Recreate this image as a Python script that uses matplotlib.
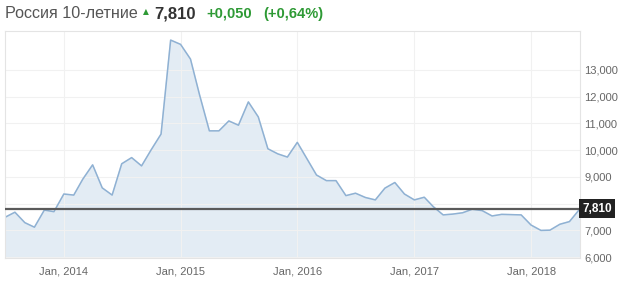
import pandas as pd
import matplotlib
matplotlib.use("Agg")
import matplotlib.pyplot as plt

plt.rcParams['font.family'] = ['Liberation Sans', 'DejaVu Sans']

# доходность 10-летних ОФЗ, помесячно с июля 2013 по июнь 2018
months = pd.date_range("2013-07-01", periods=60, freq="MS")
yields = [
    7.49, 7.68, 7.29, 7.12, 7.76, 7.70,
    8.36, 8.32, 8.91, 9.45, 8.59, 8.32, 9.49, 9.72, 9.41, 10.01, 10.60, 14.11,
    13.95, 13.40, 12.08, 10.72, 10.72, 11.09, 10.93, 11.80, 11.24, 10.05, 9.86, 9.74,
    10.29, 9.66, 9.07, 8.86, 8.86, 8.30, 8.39, 8.23, 8.14, 8.58, 8.79, 8.36,
    8.14, 8.24, 7.89, 7.58, 7.61, 7.66, 7.79, 7.74, 7.54, 7.60, 7.59, 7.58,
    7.20, 7.00, 7.01, 7.23, 7.33, 7.78,
]
last_value = 7.810
y_ticks = [6, 7, 8, 9, 10, 11, 12, 13]
y_tick_labels = ["6,000", "7,000", "8,000", "9,000", "10,000", "11,000", "12,000", "13,000"]
x_ticks = pd.to_datetime(["2014-01-01", "2015-01-01", "2016-01-01", "2017-01-01", "2018-01-01"])
x_tick_labels = ["Jan, 2014", "Jan, 2015", "Jan, 2016", "Jan, 2017", "Jan, 2018"]

fig = plt.figure(figsize=(6.4, 2.9), dpi=100)
ax = fig.add_axes([5 / 640, 1 - 258 / 290, 575 / 640, 227 / 290])

ax.fill_between(months, yields, 0, color="#e3ecf4", zorder=1)
ax.plot(months, yields, color="#8fb1d3", lw=1.1, zorder=2)
ax.axhline(last_value, color="#5a5a5a", lw=1.6, zorder=3)

ax.set_xlim(pd.Timestamp("2013-07-01"), pd.Timestamp("2018-06-03"))
ax.set_ylim(5.97, 14.45)

ax.set_xticks(x_ticks)
ax.set_xticklabels(x_tick_labels)
ax.yaxis.tick_right()
ax.set_yticks(y_ticks)
ax.set_yticklabels(y_tick_labels)
ax.tick_params(axis="both", length=0, labelsize=8, colors="#666666")
ax.tick_params(axis="x", pad=6)
ax.tick_params(axis="y", pad=3)
ax.grid(True, color="#f1f1f1", lw=0.8, zorder=0)
for s in ax.spines.values():
    s.set_color("#e4e4e4")
    s.set_linewidth(0.8)

# метка последнего значения справа (как в оригинале, перекрывает 8,000)
ax.annotate(f"{last_value:.3f}".replace(".", ","), xy=(1, last_value),
            xycoords=("axes fraction", "data"), xytext=(1.5, 0), textcoords="offset points",
            va="center", ha="left", fontsize=8.5, fontweight="bold", color="white",
            bbox=dict(boxstyle="square,pad=0.3", fc="#222222", ec="none"),
            annotation_clip=False, zorder=10)

# заголовок
t1 = fig.text(5 / 640, 1 - 14 / 290, "Россия 10-летние", fontsize=11.6, color="#555555", va="center")
t2 = ax.annotate("▲", xy=(1, 0.5), xycoords=t1, xytext=(3.5, 2), textcoords="offset points",
                 va="center", fontsize=5.5, color="#2e9a35", family="DejaVu Sans")
t3 = ax.annotate(f"{last_value:.3f}".replace(".", ","), xy=(1, 0.5), xycoords=t2, xytext=(4, -2),
                 textcoords="offset points", va="center", fontsize=12, fontweight="bold",
                 color="#333333")
t4 = ax.annotate("+0,050", xy=(1, 0.5), xycoords=t3, xytext=(8, 0), textcoords="offset points",
                 va="center", fontsize=10.5, fontweight="bold", color="#2e9a35")
ax.annotate("(+0,64%)", xy=(1, 0.5), xycoords=t4, xytext=(8, 0), textcoords="offset points",
            va="center", fontsize=10.5, fontweight="bold", color="#2e9a35")

fig.savefig("out.png", dpi=100)
